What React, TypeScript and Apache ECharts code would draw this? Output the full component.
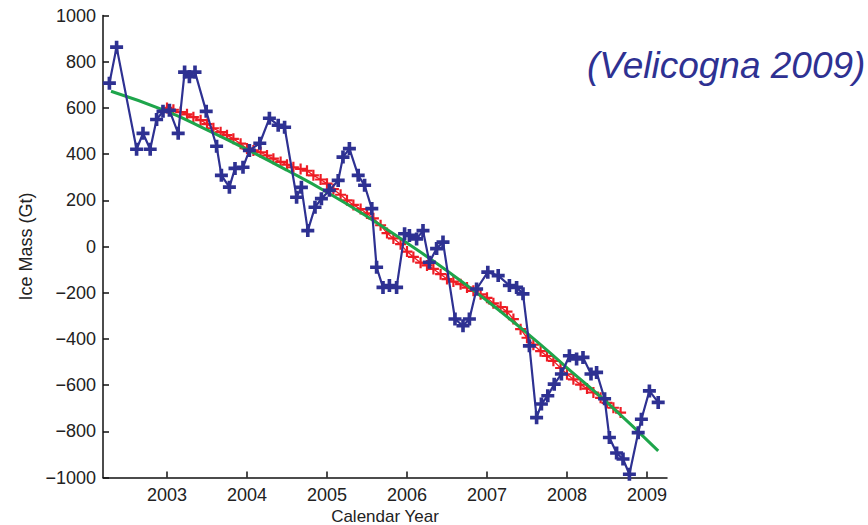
import React, { useEffect, useRef } from "react";
import * as echarts from "echarts";

const yearTicks = [2003, 2004, 2005, 2006, 2007, 2008, 2009];

// GRACE monthly ice mass (blue)
const blueYears = [
  2002.28, 2002.37, 2002.62, 2002.7, 2002.79, 2002.87, 2002.95, 2003.03, 2003.14, 2003.22,
  2003.28, 2003.35, 2003.49, 2003.62, 2003.68, 2003.78, 2003.85, 2003.95, 2004.03, 2004.16,
  2004.28, 2004.39, 2004.47, 2004.62, 2004.68, 2004.76, 2004.85, 2004.93, 2005.03, 2005.14,
  2005.2, 2005.28, 2005.39, 2005.47, 2005.56, 2005.62, 2005.7, 2005.78, 2005.87, 2005.97,
  2006.03, 2006.12, 2006.2, 2006.28, 2006.37, 2006.45, 2006.6, 2006.7, 2006.78, 2006.87,
  2007.01, 2007.14, 2007.28, 2007.37, 2007.45, 2007.53, 2007.62, 2007.68, 2007.76, 2007.84,
  2007.93, 2008.03, 2008.12, 2008.2, 2008.3, 2008.37, 2008.47, 2008.53, 2008.62, 2008.7,
  2008.78, 2008.89, 2008.93, 2009.03, 2009.14,
];
const blueMass = [
  707, 863, 421, 490, 421, 550, 585, 590, 490, 755,
  735, 755, 585, 434, 308, 257, 338, 343, 416, 447,
  555, 525, 516, 213, 256, 69, 170, 207, 243, 286,
  387, 424, 308, 265, 164, -90, -177, -169, -177, 55,
  48, 33, 69, -68, -9, 19, -314, -343, -314, -184,
  -111, -126, -169, -177, -205, -430, -741, -682, -646, -596,
  -552, -473, -487, -480, -552, -545, -659, -827, -894, -920,
  -986, -806, -748, -625, -675,
];

// smoothed series (red)
const redYears = [
  2003.0, 2003.08, 2003.17, 2003.25, 2003.33, 2003.42, 2003.5, 2003.58, 2003.67, 2003.75,
  2003.83, 2003.92, 2004.0, 2004.08, 2004.17, 2004.25, 2004.33, 2004.42, 2004.5, 2004.58,
  2004.67, 2004.75, 2004.83, 2004.92, 2005.0, 2005.08, 2005.17, 2005.25, 2005.33, 2005.42,
  2005.5, 2005.58, 2005.67, 2005.75, 2005.83, 2005.92, 2006.0, 2006.08, 2006.17, 2006.25,
  2006.33, 2006.42, 2006.5, 2006.58, 2006.67, 2006.75, 2006.83, 2006.92, 2007.0, 2007.08,
  2007.17, 2007.25, 2007.33, 2007.42, 2007.5, 2007.58, 2007.67, 2007.75, 2007.83, 2007.92,
  2008.0, 2008.08, 2008.17, 2008.25, 2008.33, 2008.42, 2008.5, 2008.58, 2008.67,
];
const redMass = [
  600, 592, 582, 572, 560, 547, 530, 512, 495, 482,
  466, 445, 424, 416, 408, 394, 380, 366, 354, 343,
  336, 328, 308, 290, 272, 248, 224, 200, 180, 162,
  143, 122, 92, 58, 35, 10, -22, -45, -70, -82,
  -97, -120, -141, -152, -163, -178, -192, -207, -222, -246,
  -262, -282, -314, -358, -395, -425, -453, -474, -495, -526,
  -553, -575, -598, -615, -632, -655, -677, -698, -719,
];

// fitted trend (green)
const greenYears = [2002.3, 2003.0, 2003.5, 2004.0, 2004.5, 2005.0, 2005.5, 2006.0, 2006.5, 2007.0, 2007.5, 2008.0, 2008.5, 2009.14];
const greenMass = [672, 585, 505, 420, 330, 235, 130, 15, -105, -235, -375, -525, -675, -885];

const TITLE = "(Velicogna 2009)";
const X_NAME = "Calendar Year";
const Y_NAME = "Ice Mass (Gt)";

const pair = (xs: number[], ys: number[]) => xs.map((x, i) => [x, ys[i]]);
const fmt = (v: number) => (v < 0 ? "\u2212" + Math.abs(v) : String(v));

const BLUE = "#2e3192";
const RED = "#ee1c24";
const GREEN = "#1ea54b";
const PLUS_THICK = "path://M3.6,0H6.4V3.6H10V6.4H6.4V10H3.6V6.4H0V3.6H3.6Z";
const PLUS_THIN = "path://M4.0,0H6.0V4.0H10V6.0H6.0V10H4.0V6.0H0V4.0H4.0Z";
const FONT = "'Liberation Sans', Arial, Helvetica, sans-serif";

export default function App() {
  const ref = useRef<HTMLDivElement>(null);
  useEffect(() => {
    if (!ref.current) return;
    const chart = echarts.init(ref.current, undefined, { renderer: "svg" });
    const axisCommon = {
      axisLine: { show: true, onZero: false, lineStyle: { color: "#111", width: 1.5 } },
      axisTick: { show: true, inside: true, length: 6, lineStyle: { color: "#111", width: 1.5 } },
      splitLine: { show: false },
      nameTextStyle: { color: "#222", fontSize: 18, fontFamily: FONT },
    };
    chart.setOption({
      animation: false,
      backgroundColor: "#ffffff",
      textStyle: { fontFamily: FONT },
      grid: {
        left: 103,
        width: 564,
        top: 15.5,
        height: 462,
        containLabel: false,
        outerBoundsMode: "none",
      },
      graphic: [
        {
          type: "text",
          left: 587,
          top: 47,
          style: { text: TITLE, fill: BLUE, font: `italic 37px ${FONT}` },
        },
      ],
      xAxis: {
        type: "value",
        min: 2002.2,
        max: 2009.25,
        name: X_NAME,
        nameLocation: "middle",
        nameGap: 24,
        ...axisCommon,
        nameTextStyle: { color: "#222", fontSize: 17, fontFamily: FONT, lineHeight: 17 },
        axisTick: { ...axisCommon.axisTick, customValues: yearTicks },
        axisLabel: {
          customValues: yearTicks,
          formatter: (v: number) => String(v),
          color: "#222",
          fontSize: 18,
          margin: 8,
          fontFamily: FONT,
        },
      },
      yAxis: {
        type: "value",
        min: -1000,
        max: 1000,
        interval: 200,
        name: Y_NAME,
        nameLocation: "middle",
        nameGap: 66,
        ...axisCommon,
        axisLabel: {
          formatter: fmt,
          color: "#222",
          fontSize: 18,
          margin: 7,
          fontFamily: FONT,
        },
      },
      series: [
        {
          type: "line",
          data: pair(redYears, redMass),
          symbol: PLUS_THIN,
          symbolSize: 11,
          showAllSymbol: true,
          lineStyle: { color: RED, width: 1.3 },
          itemStyle: { color: RED },
          z: 2,
        },
        {
          type: "line",
          data: pair(greenYears, greenMass),
          smooth: true,
          symbol: "none",
          lineStyle: { color: GREEN, width: 3 },
          z: 3,
        },
        {
          type: "line",
          data: pair(blueYears, blueMass),
          symbol: PLUS_THICK,
          symbolSize: 13,
          showAllSymbol: true,
          lineStyle: { color: BLUE, width: 2.2 },
          itemStyle: { color: BLUE },
          z: 4,
        },
      ],
    });
    return () => chart.dispose();
  }, []);
  return <div ref={ref} style={{ position: "fixed", left: 0, top: 0, width: 868, height: 525 }} />;
}
